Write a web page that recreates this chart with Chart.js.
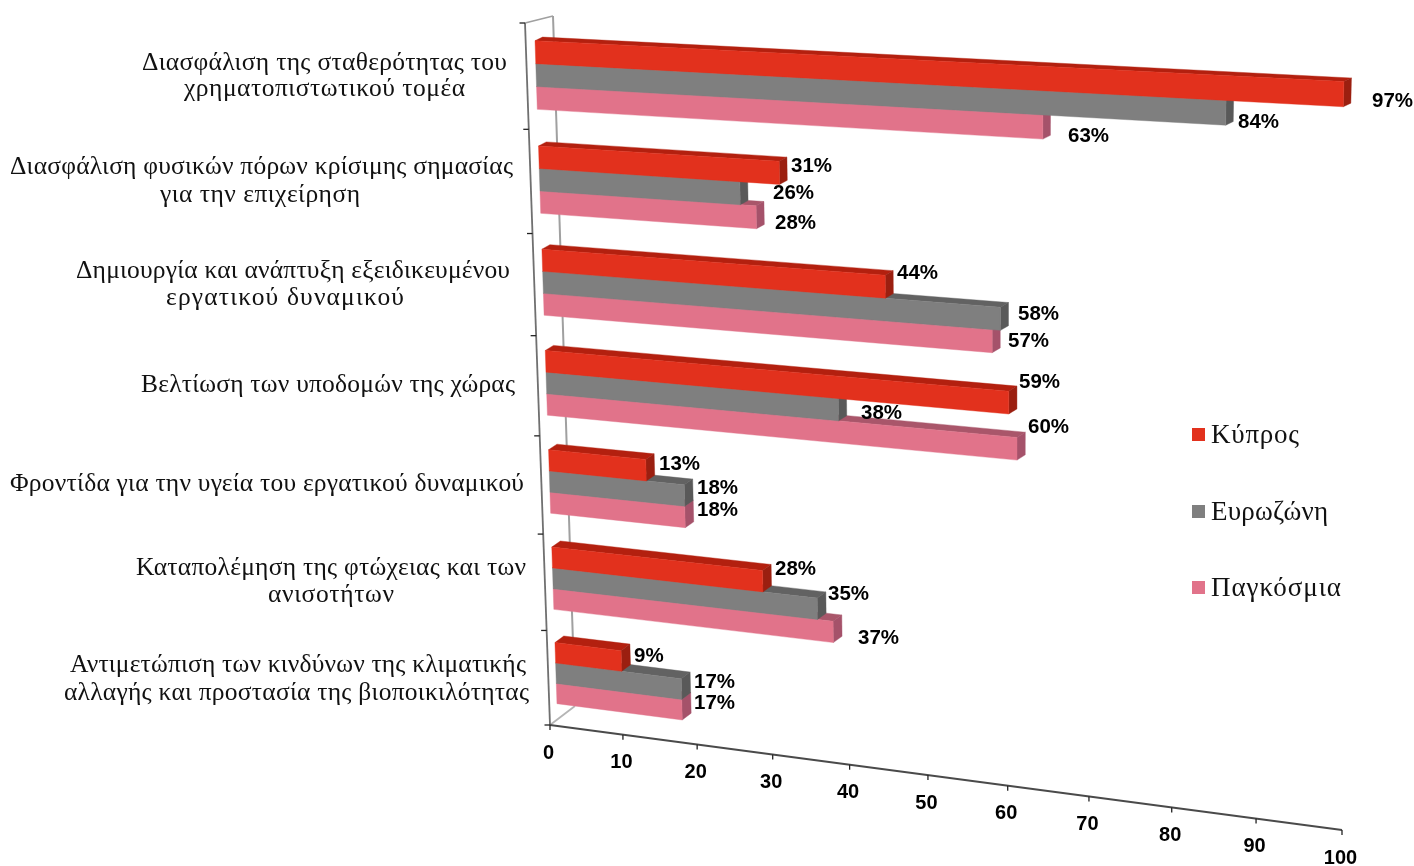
<!DOCTYPE html>
<html><head><meta charset="utf-8">
<script src="https://cdn.jsdelivr.net/npm/chart.js@4"></script>
<style>html,body{margin:0;padding:0;background:#fff}canvas{display:block}</style>
</head><body><canvas id="c" width="1414" height="866"></canvas>
<script>
const categories=[
 "Διασφάλιση της σταθερότητας του χρηματοπιστωτικού τομέα",
 "Διασφάλιση φυσικών πόρων κρίσιμης σημασίας για την επιχείρηση",
 "Δημιουργία και ανάπτυξη εξειδικευμένου εργατικού δυναμικού",
 "Βελτίωση των υποδομών της χώρας",
 "Φροντίδα για την υγεία του εργατικού δυναμικού",
 "Καταπολέμηση της φτώχειας και των ανισοτήτων",
 "Αντιμετώπιση των κινδύνων της κλιματικής αλλαγής και προστασία της βιοποικιλότητας"];
const cyprus=[97,31,44,59,13,28,9];
const eurozone=[84,26,58,38,18,35,17];
const global_=[63,28,57,60,18,37,17];
const seriesNames=["Κύπρος","Ευρωζώνη","Παγκόσμια"];
const xTicks=[0,10,20,30,40,50,60,70,80,90,100];

/* layout only */
const quad={tl:[534.4,22],tr:[1372,62.5],br:[1352,825],bl:[557.5,720]};
const axisX={a:[550,725],b:[1342,830]};
const axisY={top:[525,23],bottom:[550,725]};
const wall={top:[553,16],bottom:[575,706]};
const colors=[
 {front:'#e2311d',top:'#b3200f',side:'#9b1f10'},
 {front:'#7f7f7f',top:'#626262',side:'#595959'},
 {front:'#e1738a',top:'#a9566a',side:'#a5526a'}];
const catLabelLayout=[
 [["Διασφάλιση της σταθερότητας του",142,507,62],["χρηματοπιστωτικού τομέα",184,465,88]],
 [["Διασφάλιση φυσικών πόρων κρίσιμης σημασίας",10,513,166],["για την επιχείρηση",160,360,194]],
 [["Δημιουργία και ανάπτυξη εξειδικευμένου",76,510,270],["εργατικού δυναμικού",166,404,297]],
 [["Βελτίωση των υποδομών της χώρας",141,515,384]],
 [["Φροντίδα για την υγεία του εργατικού δυναμικού",10,524,483]],
 [["Καταπολέμηση της φτώχειας και των",136,526,567],["ανισοτήτων",268,394,594]],
 [["Αντιμετώπιση των κινδύνων της κλιματικής",70,526,664],["αλλαγής και προστασία της βιοποικιλότητας",64,529,692]]];
const valueLabelAt=[
 [[1372,100],[791,165],[897,272],[1019,381],[659,463],[775,568],[634,655]],
 [[1238,121],[773,192],[1018,313],[861,412],[697,487],[828,593],[694,681]],
 [[1068,135],[775,222],[1008,340],[1028,426],[697,509],[858,637],[694,702]]];
const legendLayout={x:1192,box:13,textX:1211,ys:[434.5,511.5,587.5],right:[1299,1328,1341]};

const H=(()=>{const [x0,y0]=quad.tl,[x1,y1]=quad.tr,[x2,y2]=quad.br,[x3,y3]=quad.bl;
 const dx1=x1-x2,dx2=x3-x2,sx=x0-x1+x2-x3,dy1=y1-y2,dy2=y3-y2,sy=y0-y1+y2-y3;
 const den=dx1*dy2-dx2*dy1,g=(sx*dy2-dx2*sy)/den,h=(dx1*sy-sx*dy1)/den;
 return {a:x1-x0+g*x1,b:x3-x0+h*x3,c:x0,d:y1-y0+g*y1,e:y3-y0+h*y3,f:y0,g,h};})();
const warpK=0.018;
const warp=v=>v*(1+warpK)/(1+warpK*v);
function project(u,v){const w=warp(v),q=H.g*u+H.h*w+1;
 return [(H.a*u+H.b*w+H.c)/q,(H.d*u+H.e*w+H.f)/q];}
const lerp=(p,q,t)=>[p[0]+(q[0]-p[0])*t,p[1]+(q[1]-p[1])*t];
function poly(ctx,pts,fill){ctx.beginPath();pts.forEach((p,i)=>i?ctx.lineTo(p[0],p[1]):ctx.moveTo(p[0],p[1]));ctx.closePath();ctx.fillStyle=fill;ctx.fill();ctx.strokeStyle=fill;ctx.lineWidth=0.4;ctx.stroke();}
function line(ctx,p,q,col,w){ctx.beginPath();ctx.moveTo(p[0],p[1]);ctx.lineTo(q[0],q[1]);ctx.strokeStyle=col;ctx.lineWidth=w;ctx.stroke();}

/* every bar is read from the library's element: value and category pixels go through the scales */
Chart.BarElement.prototype.draw=function(ctx){
 const chart=Chart.getChart(ctx.canvas),A=chart.chartArea,xs=chart.scales.x;
 const {x,y,height}=this.getProps(['x','y','height'],true);
 const c=this.options.backgroundColor,pal=colors.find(k=>k.front===c);
 const u=xs.getValueForPixel(x)/100;
 const vT=(y-height/2-A.top)/A.height,vB=(y+height/2-A.top)/A.height;
 const a=project(0,vT),b=project(u,vT),d=project(u,vB),e=project(0,vB);
 const ox=7.5+1.5*vT,oy=-(3.5+3.5*vT);
 const s=p=>[p[0]+ox,p[1]+oy];
 poly(ctx,[a,b,s(b),s(a)],pal.top);
 poly(ctx,[b,d,s(d),s(b)],pal.side);
 poly(ctx,[a,b,d,e],pal.front);
};

const wallPlugin={id:'wall',beforeDatasetsDraw(chart){
 const ctx=chart.ctx;ctx.save();
 line(ctx,wall.top,wall.bottom,'#a0a0a0',2);
 line(ctx,axisY.top,wall.top,'#a0a0a0',1.8);
 line(ctx,axisY.bottom,wall.bottom,'#b5b5b5',1.8);
 ctx.restore();
}};
const axisPlugin={id:'axes3d',afterDatasetsDraw(chart){
 const ctx=chart.ctx,xs=chart.scales.x,ys=chart.scales.y,A=chart.chartArea;ctx.save();
 // category axis
 line(ctx,axisY.top,axisY.bottom,'#707070',1.8);
 const n=categories.length;
 for(let i=0;i<=n;i++){
  const px=i<n?(ys.getPixelForTick(i)-A.height/(2*n)):A.bottom;
  const t=(project(0,(px-A.top)/A.height)[1]-quad.tl[1])/(quad.bl[1]-quad.tl[1]);
  const p=lerp(axisY.top,axisY.bottom,t);
  line(ctx,[p[0]-5.5,p[1]],p,'#222',1.3);
 }
 // value axis
 line(ctx,axisX.a,axisX.b,'#4a4a4a',2);
 const x0=project(0,1)[0],x1=project(1,1)[0];
 ctx.font='bold 20px "Liberation Sans"';ctx.fillStyle='#000';ctx.textAlign='center';ctx.textBaseline='middle';
 xTicks.forEach(tv=>{
  const u=xs.getValueForPixel(xs.getPixelForValue(tv))/100;
  const p=lerp(axisX.a,axisX.b,(project(u,1)[0]-x0)/(x1-x0));
  line(ctx,p,[p[0],p[1]+5],'#222',1.3);
  ctx.fillStyle='#000';
  ctx.fillText(String(tv),p[0]-1.5,p[1]+28);
 });
 // category labels
 ctx.font='25.5px "Liberation Serif"';ctx.textAlign='left';ctx.fillStyle='#111';
 catLabelLayout.forEach(ls=>ls.forEach(([t,l,r,yy])=>{
  ctx.letterSpacing='0px';const w=ctx.measureText(t).width;
  ctx.letterSpacing=((r-l-w)/(t.length-1)).toFixed(3)+'px';
  ctx.fillText(t,l,yy+1.5);
 }));
 ctx.letterSpacing='0px';
 // value labels
 ctx.font='bold 20.5px "Liberation Sans"';ctx.fillStyle='#000';
 chart.data.datasets.forEach((ds,si)=>ds.data.forEach((val,ci)=>{
  const at=valueLabelAt[si][ci];ctx.fillText(val+'%',at[0],at[1]+1);
 }));
 // legend
 const L=legendLayout;
 chart.data.datasets.forEach((ds,si)=>{
  const yy=L.ys[si];
  ctx.fillStyle=ds.backgroundColor;ctx.fillRect(L.x,yy-L.box/2,L.box,L.box);
  ctx.fillStyle='#111';ctx.font='27px "Liberation Serif"';
  ctx.letterSpacing='0px';const w=ctx.measureText(ds.label).width;
  ctx.letterSpacing=((L.right[si]-L.textX-w)/(ds.label.length-1)).toFixed(3)+'px';
  ctx.fillText(ds.label,L.textX,yy+1.5);
  ctx.letterSpacing='0px';
 });
 ctx.restore();
}};

new Chart(document.getElementById('c'),{
 type:'bar',
 data:{labels:categories,datasets:[
  {label:seriesNames[0],data:cyprus,backgroundColor:colors[0].front},
  {label:seriesNames[1],data:eurozone,backgroundColor:colors[1].front},
  {label:seriesNames[2],data:global_,backgroundColor:colors[2].front}]},
 options:{indexAxis:'y',responsive:false,animation:false,devicePixelRatio:1,
  layout:{padding:0},
  categoryPercentage:0.65,barPercentage:1,
  scales:{x:{display:false,min:0,max:100},y:{display:false}},
  plugins:{legend:{display:false},tooltip:{enabled:false},title:{display:false}}},
 plugins:[wallPlugin,axisPlugin]
});
</script></body></html>
